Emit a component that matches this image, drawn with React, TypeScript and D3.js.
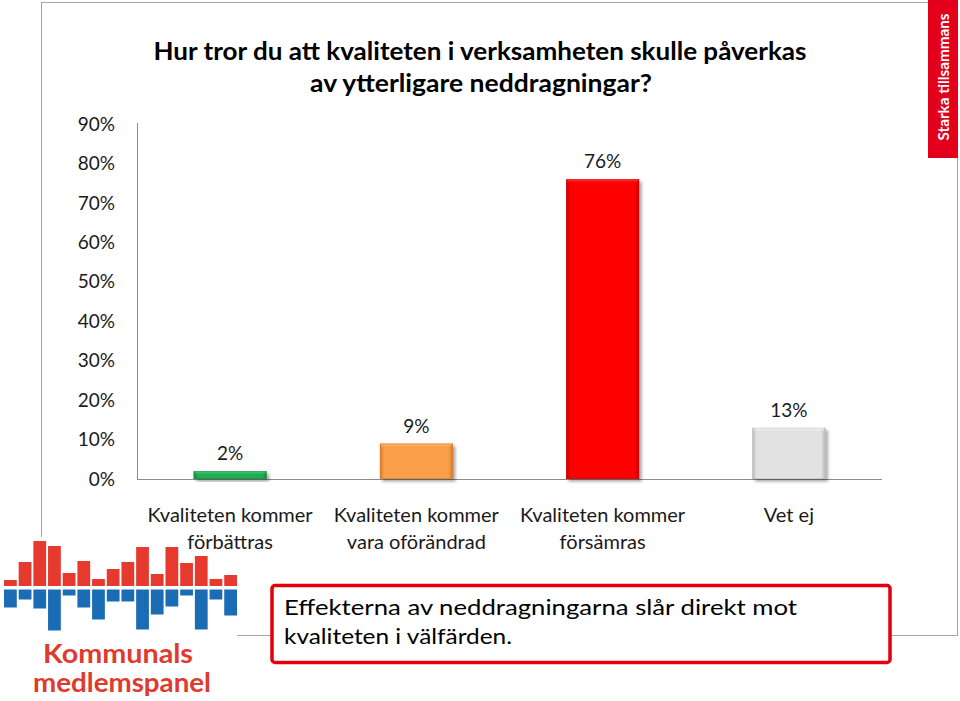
import React from 'react';
import * as d3 from 'd3';

// chart data
const categories = ['Kvaliteten kommer förbättras', 'Kvaliteten kommer vara oförändrad', 'Kvaliteten kommer försämras', 'Vet ej'];
const labelLines = [['Kvaliteten kommer', 'förbättras'], ['Kvaliteten kommer', 'vara oförändrad'], ['Kvaliteten kommer', 'försämras'], ['Vet ej']];
const values = [2, 9, 76, 13];
const valueLabels = ['2%', '9%', '76%', '13%'];
const barColors = [
  { base: '#1fae4f', light: '#6fd697', dark: '#13873a' },
  { base: '#f99f4a', light: '#fdc896', dark: '#d47a2a' },
  { base: '#ff0000', light: '#ff5a5a', dark: '#c80000' },
  { base: '#e2e2e2', light: '#ffffff', dark: '#b8b8b8' },
];
const yTicks = [0, 10, 20, 30, 40, 50, 60, 70, 80, 90];
const titleLines = ['Hur tror du att kvaliteten i verksamheten skulle påverkas', 'av ytterligare neddragningar?'];
const noteLines = ['Effekterna av neddragningarna slår direkt mot', 'kvaliteten i välfärden.'];

// logo bar heights (px)
const logoRed = [6, 24, 45, 40, 13, 25, 7, 17, 24, 39, 12, 39, 23, 30, 7, 11];
const logoBlue = [18, 10, 19, 41, 6, 18, 30, 12, 12, 40, 25, 17, 6, 40, 10, 26];

const font = 'Lato, "Open Sans", sans-serif';

const App: React.FC = () => {
  const x = d3.scaleBand<string>()
    .domain(categories)
    .range([137, 882])
    .paddingInner(0.608)
    .paddingOuter(0.304);
  const y = d3.scaleLinear().domain([0, 90]).range([479, 124]);

  const lx = d3.scaleBand<number>()
    .domain(d3.range(logoRed.length))
    .range([4, 237])
    .paddingInner(0.13)
    .paddingOuter(0);

  return (
    <svg width={960} height={701} style={{ position: 'absolute', left: 0, top: 0, background: '#fff' }}>
      <defs>
        <filter id="shadow" x="-20%" y="-20%" width="150%" height="150%">
          <feDropShadow dx="2.5" dy="2.5" stdDeviation="1.8" floodColor="#000" floodOpacity="0.35" />
        </filter>
        {barColors.map((c, i) => (
          <linearGradient key={i} id={`bar${i}`} x1="0" y1="0" x2="1" y2="0">
            <stop offset="0" stopColor={c.dark} />
            <stop offset="0.06" stopColor={c.base} />
            <stop offset="0.94" stopColor={c.base} />
            <stop offset="1" stopColor={c.dark} />
          </linearGradient>
        ))}
        {barColors.map((c, i) => (
          <linearGradient key={i} id={`top${i}`} x1="0" y1="0" x2="0" y2="1">
            <stop offset="0" stopColor={c.light} />
            <stop offset="1" stopColor={c.base} stopOpacity="0" />
          </linearGradient>
        ))}
      </defs>

      {/* outer frame */}
      <rect x={41.5} y={2.5} width={916} height={633} fill="none" stroke="#a6a6a6" strokeWidth={1} />

      {/* banner */}
      <rect x={928} y={0} width={30} height={158} fill="#e2001a" />
      <text transform="translate(948.5,77) rotate(-90)" textAnchor="middle" fill="#fff"
        fontFamily={font} fontWeight={700} fontSize={15}
        textLength={127} lengthAdjust="spacingAndGlyphs">Starka tillsammans</text>

      {/* title */}
      <text x={480} y={60} textAnchor="middle" fontFamily={font} fontWeight={700} fontSize={24}
        textLength={653} lengthAdjust="spacingAndGlyphs" fill="#000">{titleLines[0]}</text>
      <text x={481} y={92} textAnchor="middle" fontFamily={font} fontWeight={700} fontSize={24}
        textLength={342} lengthAdjust="spacingAndGlyphs" fill="#000">{titleLines[1]}</text>

      {/* y axis labels */}
      {yTicks.map(t => (
        <text key={t} x={115} y={y(t)} dy="0.35em" textAnchor="end" fontFamily={font} fontSize={19} fill="#1a1a1a">
          {`${t}%`}
        </text>
      ))}

      {/* axes lines */}
      <line x1={137.5} x2={137.5} y1={123} y2={479} stroke="#8c8c8c" strokeWidth={1} />
      <line x1={137} x2={882} y1={479.5} y2={479.5} stroke="#8c8c8c" strokeWidth={1} />

      {/* bars */}
      {categories.map((c, i) => {
        const bx = x(c)!;
        const bw = x.bandwidth();
        const by = y(values[i]);
        const bh = y(0) - by;
        return (
          <g key={c}>
            <rect x={bx} y={by} width={bw} height={bh} fill={`url(#bar${i})`} filter="url(#shadow)" />
            <rect x={bx + 1} y={by} width={bw - 2} height={Math.min(4, bh)} fill={`url(#top${i})`} />
            <rect x={bx + 0.5} y={by + 0.5} width={bw - 1} height={bh - 1} fill="none" stroke={barColors[i].dark} strokeOpacity={0.5} strokeWidth={1} />
            <text x={bx + bw / 2} y={by - 11} textAnchor="middle" fontFamily={font} fontSize={19} fill="#1a1a1a">
              {valueLabels[i]}
            </text>
          </g>
        );
      })}

      {/* logo */}
      <rect x={0} y={537} width={237} height={164} fill="#fff" />
      {logoRed.map((h, i) => (
        <rect key={`r${i}`} x={lx(i)!} y={586 - h} width={lx.bandwidth()} height={h} fill="#e63a2e" />
      ))}
      {logoBlue.map((h, i) => (
        <rect key={`b${i}`} x={lx(i)!} y={589.5} width={lx.bandwidth()} height={h} fill="#1a6db5" />
      ))}
      <text x={43} y={663} fontFamily={font} fontWeight={700} fontSize={26} fill="#e03a2e"
        textLength={150} lengthAdjust="spacingAndGlyphs">Kommunals</text>
      <text x={33} y={692} fontFamily={font} fontWeight={700} fontSize={26} fill="#e03a2e"
        textLength={178} lengthAdjust="spacingAndGlyphs">medlemspanel</text>

      {/* category labels */}
      {categories.map((c, i) => {
        const cx = x(c)! + x.bandwidth() / 2;
        return labelLines[i].map((line, j) => (
          <text key={`${c}-${j}`} x={cx} y={522 + j * 27} textAnchor="middle" fontFamily={font} fontSize={20} fill="#1a1a1a">
            {line}
          </text>
        ));
      })}

      {/* note box */}
      <rect x={272} y={585.5} width={618} height={77} rx={3} fill="#fff" stroke="#e2000f" strokeWidth={3.5} />
      <text x={284} y={615} fontFamily={font} fontSize={22} fill="#000"
        textLength={513} lengthAdjust="spacingAndGlyphs">{noteLines[0]}</text>
      <text x={284} y={644} fontFamily={font} fontSize={22} fill="#000"
        textLength={228} lengthAdjust="spacingAndGlyphs">{noteLines[1]}</text>
    </svg>
  );
};

export default App;
